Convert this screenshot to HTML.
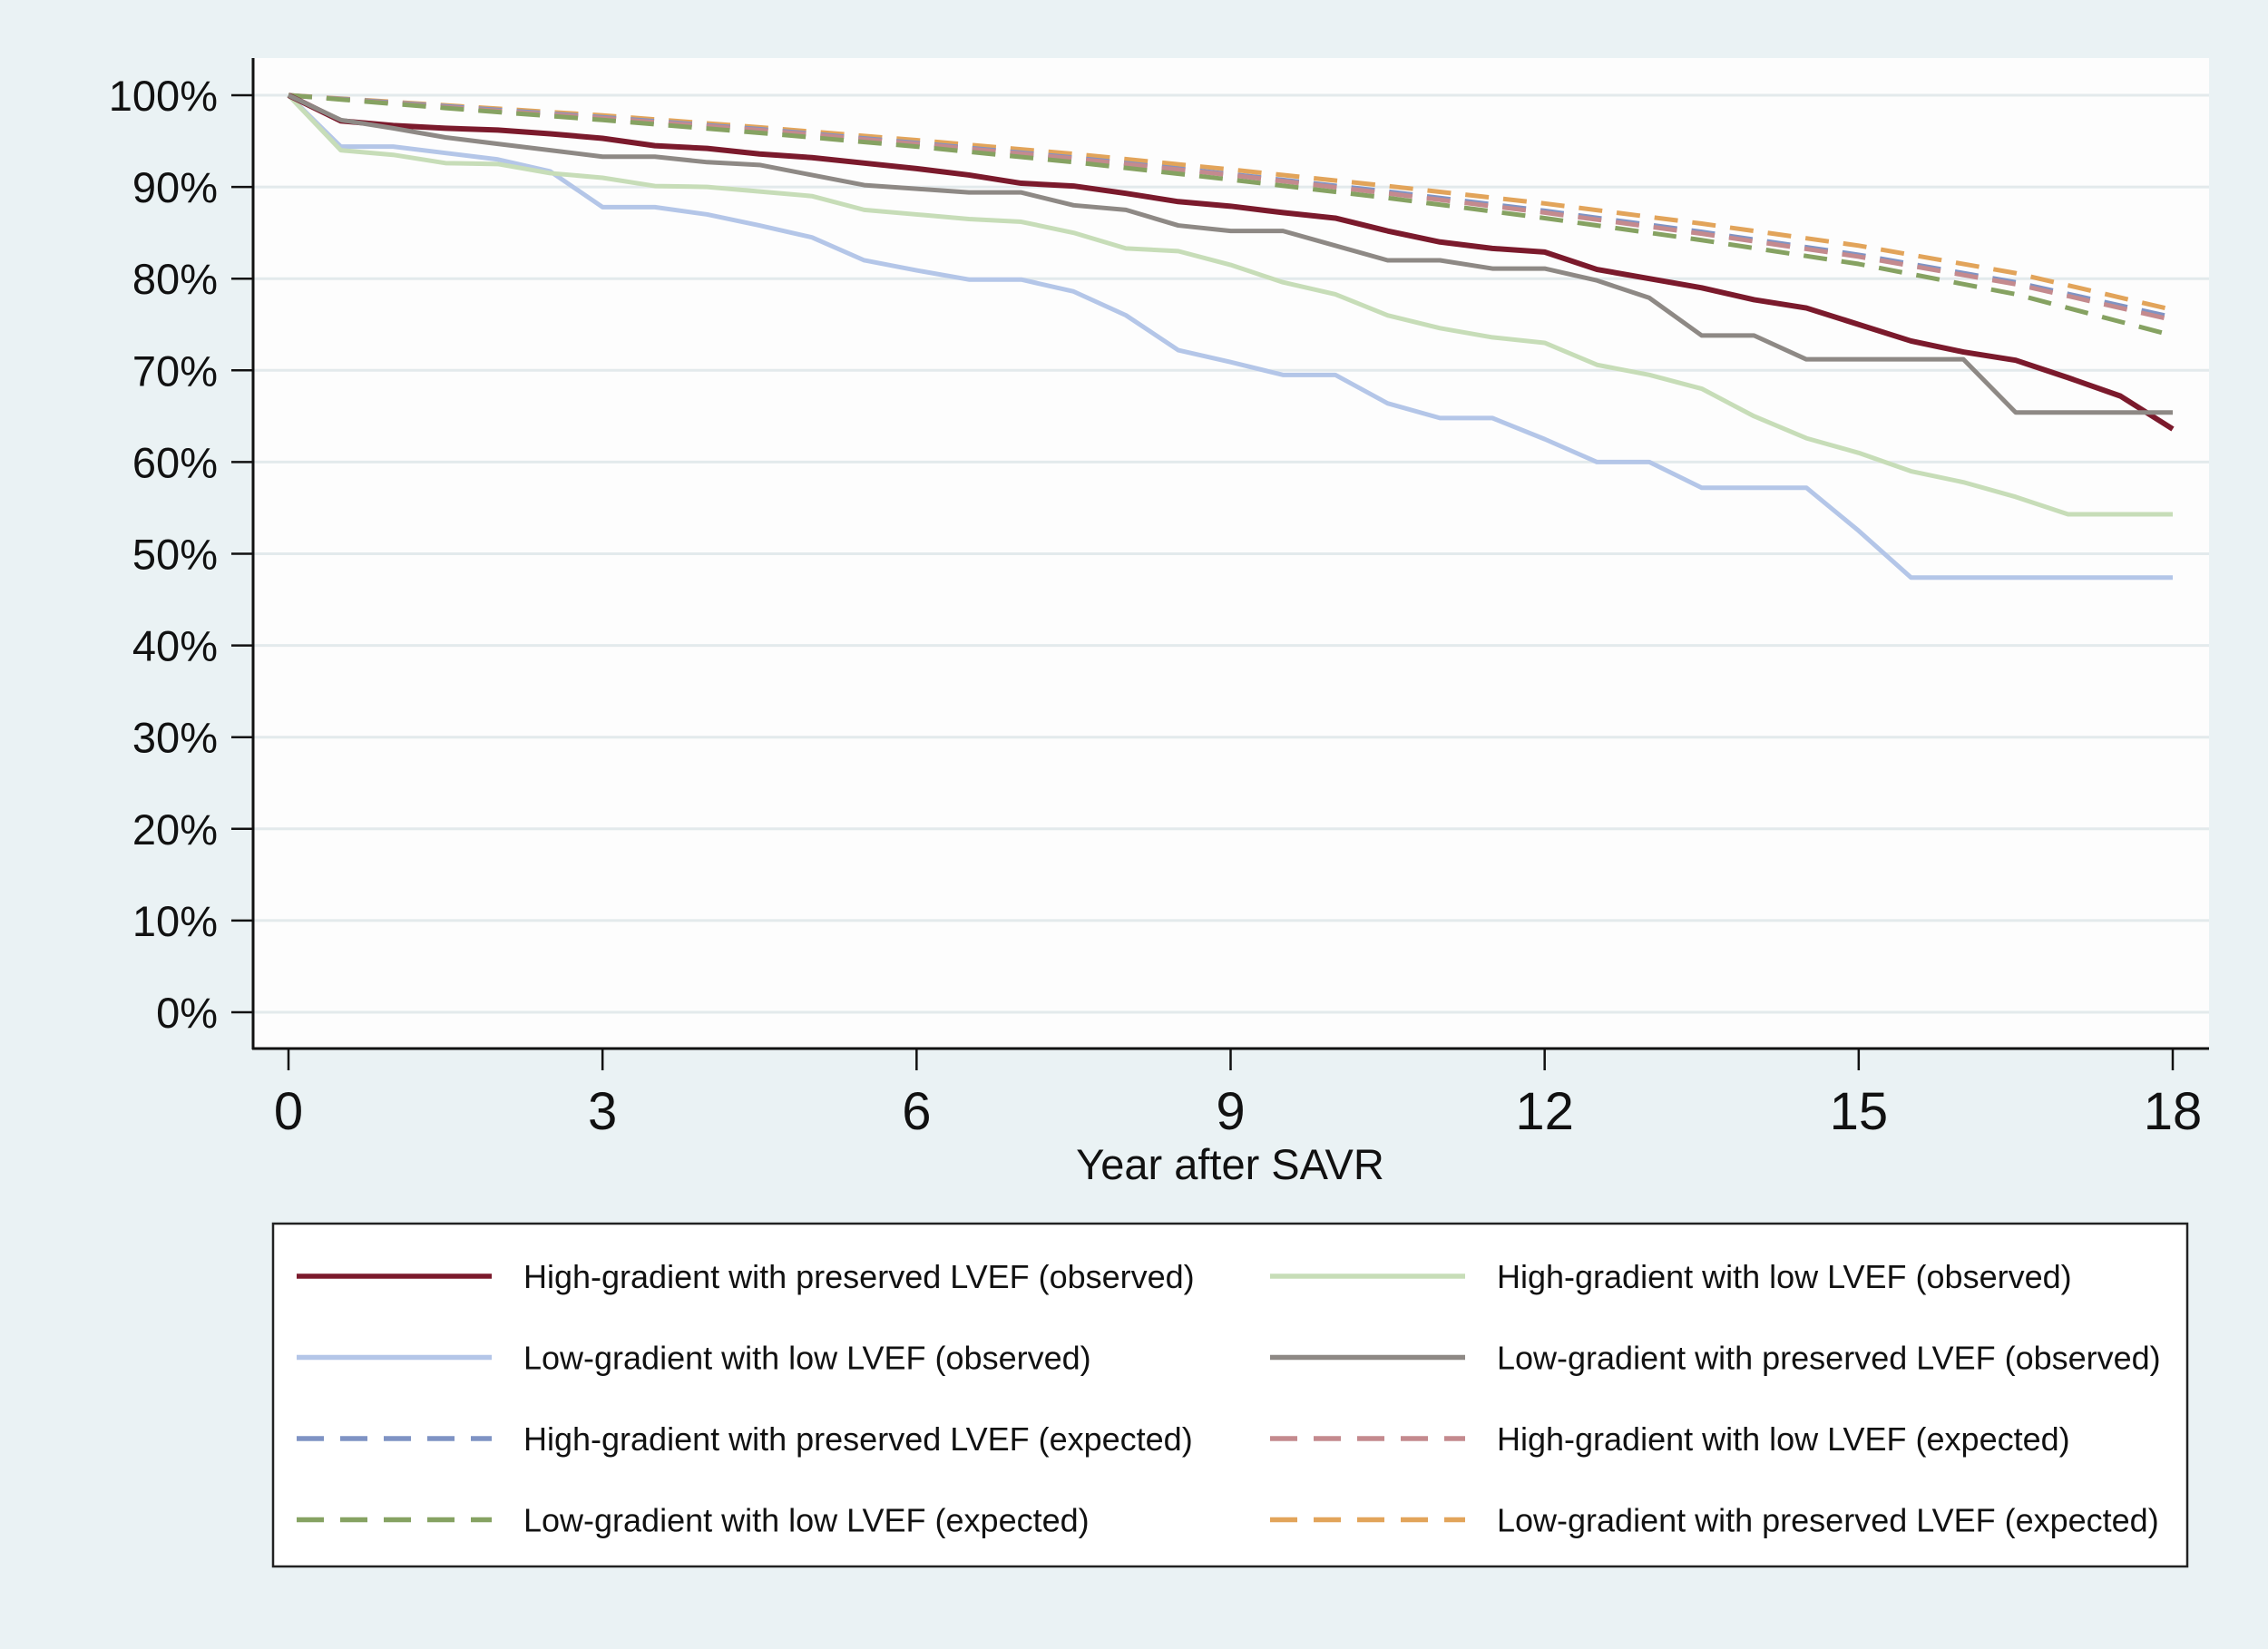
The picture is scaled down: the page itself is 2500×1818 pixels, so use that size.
<!DOCTYPE html>
<html><head><meta charset="utf-8"><style>
html,body{margin:0;padding:0;background:#eaf2f4;}
svg{display:block;font-family:"Liberation Sans",sans-serif;}
</style></head><body>
<svg id="chart" width="2500" height="1818" viewBox="0 0 2500 1818" xmlns="http://www.w3.org/2000/svg">
<rect x="0" y="0" width="2500" height="1818" fill="#eaf2f4"/>
<rect x="279" y="64" width="2156" height="1092" fill="#fdfdfd"/>
<g id="grid"></g><g id="series"></g><g id="axes"></g>
<text x="1356" y="1300" font-size="47" text-anchor="middle" fill="#111">Year after SAVR</text>
<g>
<rect x="301" y="1349" width="2110" height="378" fill="#fff" stroke="#222" stroke-width="2.5"/>
<g id="legend"></g>
</g>
</svg>
<script>
const years=[0,0.5,1,1.5,2,2.5,3,3.5,4,4.5,5,5.5,6,6.5,7,7.5,8,8.5,9,9.5,10,10.5,11,11.5,12,12.5,13,13.5,14,14.5,15,15.5,16,16.5,17,17.5,18];
const hgPresObs=[100,97.2,96.7,96.4,96.2,95.8,95.3,94.5,94.2,93.6,93.2,92.6,92,91.3,90.4,90.1,89.3,88.4,87.9,87.2,86.6,85.2,84,83.3,82.9,81,80,79,77.7,76.8,75,73.2,72,71.1,69.2,67.2,63.6];
const hgLowObs=[100,94,93.5,92.6,92.5,91.5,91,90.1,90,89.5,89,87.5,87,86.5,86.2,85,83.3,83,81.5,79.6,78.3,76,74.6,73.6,73,70.6,69.5,68,65,62.6,61,59,57.8,56.2,54.3,54.3,54.3];
const lgLowObs=[100,94.4,94.4,93.7,93,91.7,87.8,87.8,87,85.8,84.5,82,80.9,79.9,79.9,78.6,76,72.2,70.9,69.5,69.5,66.4,64.8,64.8,62.5,60,60,57.2,57.2,57.2,52.5,47.4,47.4,47.4,47.4,47.4,47.4];
const lgPresObs=[100,97.3,96.4,95.4,94.7,94,93.3,93.3,92.7,92.4,91.3,90.2,89.8,89.4,89.4,88,87.5,85.8,85.2,85.2,83.6,82,82,81.1,81.1,79.8,77.9,73.8,73.8,71.2,71.2,71.2,71.2,65.4,65.4,65.4,65.4];
const expYears=[0,1.5,3,4.5,6,7.5,9,10.5,12,13.5,15,16.5,18];
const lgPresExp=[100,98.9,97.8,96.5,95.1,93.6,91.9,90.1,88.2,86,83.6,80.6,76.6];
const hgPresExp=[100,98.8,97.6,96.3,94.8,93.2,91.4,89.5,87.4,85.1,82.6,79.6,75.8];
const hgLowExp=[100,98.7,97.5,96.2,94.7,93.1,91.3,89.3,87.2,84.9,82.4,79.4,75.5];
const lgLowExp=[100,98.6,97.3,95.9,94.4,92.7,90.8,88.8,86.6,84.2,81.6,78.3,73.8];
const yTicks=[0,10,20,30,40,50,60,70,80,90,100];
const xTicks=[0,3,6,9,12,15,18];
const legendLabels=["High-gradient with preserved LVEF (observed)","High-gradient with low LVEF (observed)","Low-gradient with low LVEF (observed)","Low-gradient with preserved LVEF (observed)","High-gradient with preserved LVEF (expected)","High-gradient with low LVEF (expected)","Low-gradient with low LVEF (expected)","Low-gradient with preserved LVEF (expected)"];

const NS="http://www.w3.org/2000/svg";
const X=v=>318+v*(2395-318)/18;
const Y=v=>1116-v*(1116-105)/100;
function mk(tag,attrs,parent){const e=document.createElementNS(NS,tag);for(const k in attrs)e.setAttribute(k,attrs[k]);parent.appendChild(e);return e;}
const grid=document.getElementById('grid'),axes=document.getElementById('axes'),ser=document.getElementById('series'),leg=document.getElementById('legend');
yTicks.forEach(t=>{
  const g=mk('line',{x1:279,x2:2435,y1:Y(t),y2:Y(t),stroke:'#e3eaec','stroke-width':3},grid);
  
  
  const tk=mk('line',{x1:255,x2:279,y1:Y(t),y2:Y(t),stroke:'#111','stroke-width':2.5},axes);
  
  
  const tx=mk('text',{x:240,y:Y(t)+17,'font-size':47,'text-anchor':'end',fill:'#111'},axes);
  tx.textContent=t+'%';
  
  
});
xTicks.forEach(t=>{
  const tk=mk('line',{x1:X(t),x2:X(t),y1:1156,y2:1180,stroke:'#111','stroke-width':2.5},axes);
  
  
  const tx=mk('text',{x:X(t),y:1245,'font-size':58,'text-anchor':'middle',fill:'#111'},axes);
  tx.textContent=t;
  
  
});
const ax1=mk('line',{x1:279,x2:279,y1:64,y2:1157,stroke:'#111','stroke-width':3},axes);


const ax2=mk('line',{x1:278,x2:2435,y1:1156,y2:1156,stroke:'#111','stroke-width':3},axes);



const defs=[
 {xs:expYears,v:lgPresExp,c:'#e2a45a',d:'26 16',w:5,n:'lg-preserved-expected-line'},
 {xs:expYears,v:hgPresExp,c:'#7f93c4',d:'26 16',w:5,n:'hg-preserved-expected-line'},
 {xs:expYears,v:hgLowExp,c:'#c48a8e',d:'26 16',w:5,n:'hg-low-expected-line'},
 {xs:expYears,v:lgLowExp,c:'#86a262',d:'26 16',w:5,n:'lg-low-expected-line'},
 {xs:years,v:lgLowObs,c:'#b4c6e8',d:'',w:5,n:'lg-low-observed-line'},
 {xs:years,v:hgLowObs,c:'#c7ddb8',d:'',w:5,n:'hg-low-observed-line'},
 {xs:years,v:hgPresObs,c:'#7b1a2c',d:'',w:6,n:'hg-preserved-observed-line'},
 {xs:years,v:lgPresObs,c:'#8e8985',d:'',w:5,n:'lg-preserved-observed-line'}
];
defs.forEach(s=>{
  const pts=s.v.map((v,i)=>X(s.xs[i])+','+Y(v)).join(' ');
  const p=mk('polyline',{points:pts,fill:'none',stroke:s.c,'stroke-width':s.w,'stroke-linejoin':'round'},ser);
  if(s.d)p.setAttribute('stroke-dasharray',s.d);
  
  
});
const legStyle=[['#7b1a2c',''],['#c7ddb8',''],['#b4c6e8',''],['#8e8985',''],['#7f93c4','30 18'],['#c48a8e','30 18'],['#86a262','30 18'],['#e2a45a','30 18']];
legendLabels.forEach((lab,i)=>{
  const col=i%2,row=Math.floor(i/2);
  const y=1407+row*89.5;
  const lx=col?1400:327, tx=col?1650:577;
  const l=mk('line',{x1:lx,x2:lx+215,y1:y,y2:y,stroke:legStyle[i][0],'stroke-width':5.5},leg);
  if(legStyle[i][1])l.setAttribute('stroke-dasharray',legStyle[i][1]);
  
  
  const t=mk('text',{x:tx,y:y+13,'font-size':36,fill:'#111'},leg);
  t.textContent=lab;
  
  
});
</script>
</body></html>
